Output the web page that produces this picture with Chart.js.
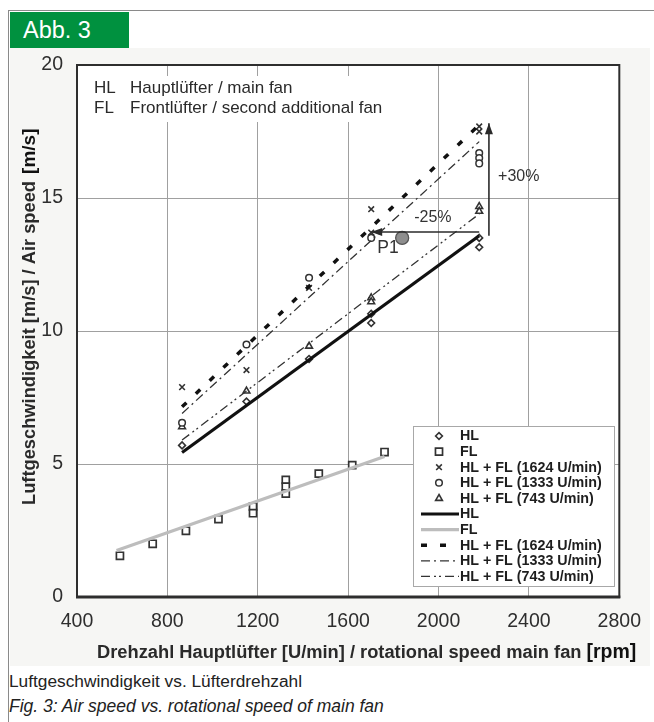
<!DOCTYPE html>
<html>
<head>
<meta charset="utf-8">
<script src="https://cdn.jsdelivr.net/npm/chart.js@4/dist/chart.umd.min.js"></script>
<style>
  html,body{margin:0;padding:0;background:#fff;}
  body{width:654px;height:722px;position:relative;overflow:hidden;font-family:"Liberation Sans",Arial,sans-serif;}
  #topline{position:absolute;left:8px;top:10px;width:646px;height:0;border-top:1.5px solid #8a8a8a;}
  #leftline{position:absolute;left:8px;top:10px;width:0;height:712px;border-left:1.5px solid #8a8a8a;}
  #panel{position:absolute;left:10px;top:48px;width:640px;height:618px;background:#f6f6f4;}
  #abb{position:absolute;left:10px;top:12px;width:119px;height:36px;background:#00913f;color:#fff;font-size:23.5px;line-height:37px;padding-left:13px;box-sizing:border-box;}
  #cv{position:absolute;left:0;top:0;}
  #cap1{position:absolute;left:9px;top:671px;font-size:17.3px;color:#222;}
  #cap2{position:absolute;left:9px;top:696px;font-size:17.5px;color:#222;font-style:italic;}
</style>
</head>
<body>
<div id="panel"></div>
<div id="topline"></div>
<div id="leftline"></div>
<div id="abb">Abb. 3</div>
<canvas id="cv" width="654" height="670"></canvas>
<div id="cap1">Luftgeschwindigkeit vs. Lüfterdrehzahl</div>
<div id="cap2">Fig. 3: Air speed vs. rotational speed of main fan</div>
<script>
// ---------- data ----------
const xTicks = [400, 800, 1200, 1600, 2000, 2400, 2800];
const yTicks = [0, 5, 10, 15, 20];

const hlRpm   = [865, 1150, 1427, 1702, 1702, 2180, 2180];
const hlSpeed = [5.70, 7.35, 8.95, 10.65, 10.30, 13.50, 13.15];

const flRpm   = [590, 735, 882, 1026, 1179, 1179, 1324, 1324, 1324, 1470, 1618, 1761];
const flSpeed = [1.55, 2.00, 2.49, 2.93, 3.40, 3.15, 4.40, 4.15, 3.89, 4.64, 4.96, 5.45];

const fl1624Rpm   = [865, 1150, 1427, 1702, 1702, 2180, 2180];
const fl1624Speed = [7.89, 8.53, 11.62, 14.58, 13.70, 17.69, 17.50];

const fl1333Rpm   = [865, 1150, 1427, 1702, 2180, 2180, 2180];
const fl1333Speed = [6.55, 9.49, 12.00, 13.50, 16.69, 16.50, 16.30];

const fl743Rpm   = [865, 1150, 1427, 1702, 1702, 2180, 2180];
const fl743Speed = [6.40, 7.74, 9.43, 11.25, 11.10, 14.68, 14.50];

// regression lines: [start, end]
const fitHlRpm = [865, 2180],   fitHlSpeed = [5.43, 13.58];
const fitFlRpm = [575, 1761],   fitFlSpeed = [1.75, 5.28];
const fit1624Rpm = [865, 2180], fit1624Speed = [7.15, 17.75];
const fit1333Rpm = [865, 2180], fit1333Speed = [6.90, 17.12];
const fit743Rpm = [865, 2180],  fit743Speed = [5.90, 14.40];

const p1Rpm = [1839], p1Speed = [13.50];

const labels = ['HL', 'FL', 'HL + FL (1624 U/min)', 'HL + FL (1333 U/min)', 'HL + FL (743 U/min)'];

// annotations (data coordinates)
const arrowH = {from: [2180, 13.72], to: [1702, 13.72]};
const arrowV = {from: [2223, 13.58], to: [2223, 17.81]};
const txt25 = {text: '-25%', at: [1975, 14.28]};
const txt30 = {text: '+30%', at: [2355, 15.81]};
const txtP1 = {text: 'P1', at: [1776, 13.12]};

// ---------- helpers ----------
const pts = (xs, ys) => xs.map((x, i) => ({x: x, y: ys[i]}));
const MK = '#333';

const datasets = [
  {label: labels[0], data: pts(fitHlRpm, fitHlSpeed), showLine: true, borderColor: '#111', borderWidth: 3.2, pointRadius: 0, legendLine: true},
  {label: labels[1], data: pts(fitFlRpm, fitFlSpeed), showLine: true, borderColor: '#bdbdbd', borderWidth: 3.2, pointRadius: 0, legendLine: true},
  {label: labels[2], data: pts(fit1624Rpm, fit1624Speed), showLine: true, borderColor: '#111', borderWidth: 3.5, borderDash: [6, 13], pointRadius: 0, legendLine: true},
  {label: labels[3], data: pts(fit1333Rpm, fit1333Speed), showLine: true, borderColor: '#333', borderWidth: 1.3, borderDash: [9, 4, 2, 4], pointRadius: 0, legendLine: true},
  {label: labels[4], data: pts(fit743Rpm, fit743Speed), showLine: true, borderColor: '#333', borderWidth: 1.3, borderDash: [9, 4, 2, 3, 2, 4], pointRadius: 0, legendLine: true},
  {label: labels[0], data: pts(hlRpm, hlSpeed), pointStyle: 'rectRot', pointRadius: 3.4, borderColor: MK, backgroundColor: '#fff', pointBorderWidth: 1.6, legendPoint: true},
  {label: labels[1], data: pts(flRpm, flSpeed), pointStyle: 'rect', pointRadius: 5, borderColor: MK, backgroundColor: '#fff', pointBorderWidth: 1.7, legendPoint: true},
  {label: labels[2], data: pts(fl1624Rpm, fl1624Speed), pointStyle: 'crossRot', pointRadius: 4, borderColor: MK, backgroundColor: '#fff', pointBorderWidth: 1.6, legendPoint: true},
  {label: labels[3], data: pts(fl1333Rpm, fl1333Speed), pointStyle: 'circle', pointRadius: 3.3, borderColor: MK, backgroundColor: '#fff', pointBorderWidth: 1.5, legendPoint: true},
  {label: labels[4], data: pts(fl743Rpm, fl743Speed), pointStyle: 'triangle', pointRadius: 3.9, borderColor: MK, backgroundColor: '#fff', pointBorderWidth: 1.6, legendPoint: true},
  {label: 'P1', data: pts(p1Rpm, p1Speed), pointStyle: 'circle', pointRadius: 6.5, borderColor: '#555', backgroundColor: '#8e8e8e', pointBorderWidth: 1.3}
];

const FONT = '"Liberation Sans", Arial, sans-serif';

function arrow(ctx, x1, y1, x2, y2) {
  ctx.beginPath(); ctx.moveTo(x1, y1); ctx.lineTo(x2, y2); ctx.stroke();
  const a = Math.atan2(y2 - y1, x2 - x1), L = 11, W = 4;
  ctx.beginPath();
  ctx.moveTo(x2, y2);
  ctx.lineTo(x2 - L * Math.cos(a) + W * Math.sin(a), y2 - L * Math.sin(a) - W * Math.cos(a));
  ctx.lineTo(x2 - L * Math.cos(a) - W * Math.sin(a), y2 - L * Math.sin(a) + W * Math.cos(a));
  ctx.closePath(); ctx.fill();
}

const decor = {
  id: 'decor',
  beforeDraw(chart) {
    const {ctx, chartArea: a} = chart;
    ctx.save(); ctx.fillStyle = '#fff';
    ctx.fillRect(a.left, a.top, a.right - a.left, a.bottom - a.top);
    ctx.restore();
  },
  beforeDatasetsDraw(chart) {
    const {ctx, chartArea: a} = chart;
    ctx.save();
    ctx.fillStyle = '#fff';
    ctx.fillRect(a.left + 2, a.top + 11, 325, 46);
    ctx.fillStyle = '#2a2a2a';
    ctx.font = '17px ' + FONT;
    ctx.textBaseline = 'middle';
    ctx.fillText('HL', 94, 88); ctx.fillText('Hauptlüfter / main fan', 130, 88);
    ctx.fillText('FL', 94, 108); ctx.fillText('Frontlüfter / second additional fan', 130, 108);
    ctx.restore();
  },
  afterDatasetsDraw(chart) {
    const {ctx, chartArea: a, scales: {x, y}} = chart;
    const px = p => [x.getPixelForValue(p[0]), y.getPixelForValue(p[1])];
    ctx.save();
    ctx.strokeStyle = '#2a2a2a'; ctx.fillStyle = '#2a2a2a'; ctx.lineWidth = 1.6;
    let s = px(arrowH.from), e = px(arrowH.to); arrow(ctx, s[0], s[1], e[0], e[1]);
    s = px(arrowV.from); e = px(arrowV.to); arrow(ctx, s[0], s[1], e[0], e[1]);
    ctx.fillStyle = '#333'; ctx.textAlign = 'center'; ctx.textBaseline = 'middle';
    ctx.font = '16px ' + FONT;
    let t = px(txt25.at); ctx.fillText(txt25.text, t[0], t[1]);
    t = px(txt30.at); ctx.fillText(txt30.text, t[0], t[1]);
    ctx.font = '17.5px ' + FONT;
    t = px(txtP1.at); ctx.fillText(txtP1.text, t[0], t[1]);

    // legend box
    const lx = 413, ly = 426, lw = 201, lh = 160;
    ctx.fillStyle = '#fff'; ctx.fillRect(lx, ly, lw, lh);
    ctx.strokeStyle = '#a8a8a8'; ctx.lineWidth = 1; ctx.strokeRect(lx + 0.5, ly + 0.5, lw, lh);
    const items = chart.data.datasets.filter(d => d.legendPoint).concat(chart.data.datasets.filter(d => d.legendLine));
    ctx.font = 'bold 14.3px ' + FONT; ctx.textAlign = 'left'; ctx.textBaseline = 'middle';
    items.forEach((d, i) => {
      const yy = 436 + i * 15.6;
      if (d.legendPoint) {
        ctx.strokeStyle = d.borderColor; ctx.fillStyle = d.backgroundColor; ctx.lineWidth = d.pointBorderWidth;
        Chart.helpers.drawPoint(ctx, {pointStyle: d.pointStyle, radius: d.pointRadius, borderWidth: d.pointBorderWidth}, 439, yy);
      } else {
        ctx.strokeStyle = d.borderColor; ctx.lineWidth = d.borderWidth;
        ctx.setLineDash(d.borderDash || []);
        ctx.beginPath(); ctx.moveTo(421, yy); ctx.lineTo(459, yy); ctx.stroke();
        ctx.setLineDash([]);
      }
      ctx.fillStyle = '#1e1e1e';
      ctx.fillText(d.label, 460, yy + 0.5);
    });
    ctx.restore();
  },
  afterDraw(chart) {
    const {ctx, chartArea: a} = chart;
    ctx.save();
    ctx.strokeStyle = '#2e2e2e'; ctx.lineWidth = 2;
    ctx.strokeRect(a.left, a.top, a.right - a.left, a.bottom - a.top);
    ctx.lineWidth = 3; ctx.beginPath(); ctx.moveTo(a.left - 1, a.bottom); ctx.lineTo(a.right + 1, a.bottom); ctx.stroke();
    // axis titles
    ctx.fillStyle = '#2a2a2a'; ctx.textBaseline = 'middle';
    ctx.font = 'bold 18.3px ' + FONT;
    ctx.textAlign = 'left';
    const t1 = 'Drehzahl Hauptlüfter [U/min] / rotational speed main fan';
    ctx.fillText(t1, 97, 653);
    const w1 = ctx.measureText(t1).width;
    ctx.font = 'bold 19.5px ' + FONT; ctx.fillStyle = '#111';
    ctx.fillText('[rpm]', 97 + w1 + 5, 653);
    // y title: drawn bottom-to-top starting at y=505
    ctx.translate(30, 505); ctx.rotate(-Math.PI / 2);
    ctx.textAlign = 'left'; ctx.fillStyle = '#2a2a2a';
    ctx.font = 'bold 18.3px ' + FONT;
    const t2 = 'Luftgeschwindigkeit [m/s] / Air speed ';
    ctx.fillText(t2, 0, 0);
    const w2 = ctx.measureText(t2).width;
    ctx.font = 'bold 19px ' + FONT; ctx.fillStyle = '#111';
    ctx.fillText('[m/s]', w2 + 2, 0);
    ctx.restore();
  }
};

new Chart(document.getElementById('cv'), {
  type: 'scatter',
  data: {datasets: datasets},
  options: {
    responsive: false,
    animation: false,
    layout: {padding: {left: 0, top: 65, right: 33, bottom: 0}},
    plugins: {legend: {display: false}, tooltip: {enabled: false}},
    scales: {
      x: {
        type: 'linear', min: xTicks[0], max: xTicks[xTicks.length - 1],
        afterBuildTicks: s => { s.ticks = xTicks.map(v => ({value: v})); },
        afterFit: s => { s.height = 73; },
        grid: {color: '#a0a0a0', lineWidth: 1, drawTicks: false},
        border: {display: false},
        ticks: {padding: 13, color: '#2e2e2e', font: {size: 19.5, family: FONT}, maxRotation: 0, callback: v => String(v)}
      },
      y: {
        type: 'linear', min: yTicks[0], max: yTicks[yTicks.length - 1],
        afterBuildTicks: s => { s.ticks = yTicks.map(v => ({value: v})); },
        afterFit: s => { s.width = 77; },
        grid: {color: '#a0a0a0', lineWidth: 1, drawTicks: false},
        border: {display: false},
        ticks: {padding: 14, color: '#2e2e2e', font: {size: 19.5, family: FONT}, callback: v => String(v)}
      }
    }
  },
  plugins: [decor]
});
</script>
</body>
</html>
